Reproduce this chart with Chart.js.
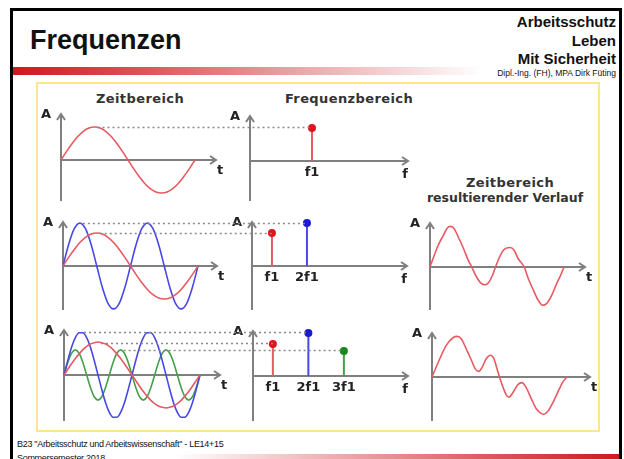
<!DOCTYPE html>
<html>
<head>
<meta charset="utf-8">
<title>Frequenzen</title>
<script src="https://cdn.jsdelivr.net/npm/chart.js@4.4.1/dist/chart.umd.min.js"></script>
<style>
  html, body { margin: 0; padding: 0; }
  body { width: 624px; height: 459px; overflow: hidden; position: relative; background: #fff;
         font-family: "Liberation Sans", Arial, sans-serif; color: #111; }
  .abs { position: absolute; white-space: nowrap; line-height: 1; }
  #frame { left: 10px; top: 8px; width: 606px; height: 480px; border: 3px solid #000; }
  #topbar { left: 13px; top: 67px; width: 470px; height: 8px;
            background: linear-gradient(90deg, #d0181c 0%, #dc5a5e 30%, #eaa4a6 60%, #fff 100%); }
  #botbar { left: 175px; top: 454px; width: 444px; height: 8px;
            background: linear-gradient(90deg, #fff 0%, #eaa4a6 40%, #dc5a5e 70%, #d0181c 100%); }
  #box { left: 36px; top: 82px; width: 560px; height: 346px; border: 2px solid #fde68f; }
  .head { right: 8px; font-weight: bold; font-size: 15px; }
  .cap { font-family: "DejaVu Sans"; font-weight: bold; font-size: 13px; color: #333;
         letter-spacing: .4px; transform: translateX(-50%); }
  .foot { left: 17px; font-size: 9px; letter-spacing: -0.3px; color: #111; }
  canvas { position: absolute; }
</style>
</head>
<body>
<div id="frame" class="abs"></div>
<div id="topbar" class="abs"></div>
<div id="botbar" class="abs"></div>
<div id="box" class="abs"></div>

<div class="abs" style="left:30px;top:27px;font-size:27px;font-weight:bold;">Frequenzen</div>
<div class="abs head" style="top:14px;">Arbeitsschutz</div>
<div class="abs head" style="top:33px;">Leben</div>
<div class="abs head" style="top:51px;">Mit Sicherheit</div>
<div class="abs" style="right:8px;top:69px;font-size:8.5px;">Dipl.-Ing. (FH), MPA Dirk Füting</div>

<div class="abs cap" style="left:140px;top:92px;">Zeitbereich</div>
<div class="abs cap" style="left:349px;top:92px;">Frequenzbereich</div>
<div class="abs cap" style="left:510px;top:176px;">Zeitbereich</div>
<div class="abs cap" style="left:505px;top:192px;font-size:12.5px;letter-spacing:0;">resultierender Verlauf</div>

<div class="abs foot" style="top:440px;">B23 "Arbeitsschutz und Arbeitswissenschaft" - LE14+15</div>
<div class="abs foot" style="top:454px;">Sommersemester 2018</div>

<canvas id="t1"></canvas><canvas id="f1"></canvas>
<canvas id="t2"></canvas><canvas id="f2"></canvas><canvas id="r2"></canvas>
<canvas id="t3"></canvas><canvas id="f3"></canvas><canvas id="r3"></canvas>
<canvas id="dots" width="624" height="459" style="left:0;top:0;"></canvas>

<script>
// phase of the fundamental, degrees
const PHASE_15 = [0,15,30,45,60,75,90,105,120,135,150,165,180,195,210,225,240,255,270,285,300,315,330,345,360];
const PHASE_10 = [0,10,20,30,40,50,60,70,80,90,100,110,120,130,140,150,160,170,180,190,200,210,220,230,240,250,260,270,280,290,300,310,320,330,340,350,360];

// row 1: one sine
const ROW1_RED = [0,0.26,0.5,0.71,0.87,0.97,1,0.97,0.87,0.71,0.5,0.26,0,-0.26,-0.5,-0.71,-0.87,-0.97,-1,-0.97,-0.87,-0.71,-0.5,-0.26,0];

// row 2: f1 + 2f1
const ROW2_RED = [0,0.26,0.5,0.71,0.87,0.97,1,0.97,0.87,0.71,0.5,0.26,0,-0.26,-0.5,-0.71,-0.87,-0.97,-1,-0.97,-0.87,-0.71,-0.5,-0.26,0];
const ROW2_BLUE = [0,0.65,1.13,1.3,1.13,0.65,0,-0.65,-1.13,-1.3,-1.13,-0.65,0,0.65,1.13,1.3,1.13,0.65,0,-0.65,-1.13,-1.3,-1.13,-0.65,0];

// row 3: f1 + 2f1 + 3f1
const ROW3_RED = [0,0.17,0.34,0.5,0.64,0.77,0.87,0.94,0.98,1,0.98,0.94,0.87,0.77,0.64,0.5,0.34,0.17,0,-0.17,-0.34,-0.5,-0.64,-0.77,-0.87,-0.94,-0.98,-1,-0.98,-0.94,-0.87,-0.77,-0.64,-0.5,-0.34,-0.17,0];
const ROW3_BLUE = [0,0.44,0.84,1.13,1.28,1.28,1.13,0.84,0.44,0,-0.44,-0.84,-1.13,-1.28,-1.28,-1.13,-0.84,-0.44,0,0.44,0.84,1.13,1.28,1.28,1.13,0.84,0.44,0,-0.44,-0.84,-1.13,-1.28,-1.28,-1.13,-0.84,-0.44,0];
const ROW3_GREEN = [0,0.38,0.66,0.76,0.66,0.38,0,-0.38,-0.66,-0.76,-0.66,-0.38,0,0.38,0.66,0.76,0.66,0.38,0,-0.38,-0.66,-0.76,-0.66,-0.38,0,0.38,0.66,0.76,0.66,0.38,0,-0.38,-0.66,-0.76,-0.66,-0.38,0];

// resulting curves
const SUM2_PHASE = [0,13,22,36,47,56,65,76,90,103,112,124,136,148,157,168,176,186,197,215,226,237,253,264,278,291,303,313,327,340,351,360];
const SUM2_A = [0,0.40,0.66,0.96,1.19,1.23,1.16,0.91,0.56,0.20,0,-0.28,-0.48,-0.54,-0.48,-0.25,0,0.28,0.51,0.59,0.51,0.25,0,-0.35,-0.71,-1.01,-1.16,-1.11,-0.86,-0.51,-0.25,0];
const SUM3_PHASE = [0,21,38,56,67,78,91,105,116,125,134,145,156,165,172,180,189,198,205,216,229,240,250,265,278,292,298,309,323,336,349,360];
const SUM3_A = [0,0.56,0.96,1.19,1.23,1.16,0.86,0.51,0.23,0.17,0.30,0.56,0.66,0.56,0.30,0,-0.30,-0.54,-0.61,-0.47,-0.23,-0.17,-0.30,-0.66,-0.96,-1.11,-1.13,-1.04,-0.76,-0.45,-0.15,0];

// spectra
const HARMONICS = [1, 2, 3];
const HARMONIC_LABELS = ['f1', '2f1', '3f1'];
const SPEC_ROW1 = [1];
const SPEC_ROW2 = [1, 1.3];
const SPEC_ROW3 = [0.97, 1.3, 0.76];
// phase where the dotted guide leaves each time curve
const PEAK_ROW1 = [90];
const PEAK_ROW2 = [90, 45];
const PEAK_ROW3 = [90, 45, 150];

const CURVE = ['#e85a62', '#4848e4', '#44a04a'];
const DOT = ['#e0141c', '#1a1ad0', '#16881c'];

// panel geometry: origin, axis ends, pixels per unit
const G = {
  t1: {x0: 61, y0: 160, right: 216, top: 114, bottom: 201, sx: 134/360, sy: 33, xAt0: 0, unit: 't'},
  f1: {x0: 250, y0: 161, right: 408, top: 116, bottom: 201, sx: 62, sy: 33, xAt0: 0, unit: 'f'},
  t2: {x0: 63, y0: 266, right: 217, top: 222, bottom: 310, sx: 135/360, sy: 33, xAt0: 0, unit: 't'},
  f2: {x0: 252, y0: 266, right: 407, top: 222, bottom: 310, sx: 35, sy: 33, xAt0: 0.43, unit: 'f'},
  r2: {x0: 430, y0: 267, right: 585, top: 223, bottom: 310, sx: 134/360, sy: 33, xAt0: 0, unit: 't'},
  t3: {x0: 64, y0: 375, right: 220, top: 330, bottom: 421, sx: 136/360, sy: 33, xAt0: 0, unit: 't'},
  f3: {x0: 253, y0: 376, right: 408, top: 331, bottom: 421, sx: 35.5, sy: 33, xAt0: 0.44, unit: 'f'},
  r3: {x0: 432, y0: 377, right: 590, top: 333, bottom: 421, sx: 135/360, sy: 33, xAt0: 0, unit: 't'}
};
const PAD = {left: 24, top: 10, right: 12, bottom: 20};

const axesPlugin = {
  id: 'axes',
  beforeDatasetsDraw(chart, args, opts) {
    const {ctx, chartArea: a, scales: {x, y}} = chart;
    const x0 = a.left, y0 = y.getPixelForValue(0);
    ctx.save();
    ctx.strokeStyle = '#7f7f7f';
    ctx.lineWidth = 2;
    ctx.beginPath();
    ctx.moveTo(x0, a.bottom); ctx.lineTo(x0, a.top);
    ctx.moveTo(x0, y0); ctx.lineTo(a.right, y0);
    ctx.moveTo(x0 - 4, a.top + 6); ctx.lineTo(x0, a.top); ctx.lineTo(x0 + 4, a.top + 6);
    ctx.moveTo(a.right - 6, y0 - 4); ctx.lineTo(a.right, y0); ctx.lineTo(a.right - 6, y0 + 4);
    ctx.stroke();
    ctx.fillStyle = '#222';
    ctx.font = 'bold 13px "DejaVu Sans"';
    ctx.textAlign = 'center';
    ctx.textBaseline = 'middle';
    ctx.fillText('A', x0 - 15, a.top + 1);
    if (opts.unit === 't') ctx.fillText('t', a.right + 4, y0 + 11);
    else ctx.fillText('f', a.right - 3, y0 + 14);
    (opts.ticks || []).forEach((h, i) => {
      ctx.fillText(HARMONIC_LABELS[i], x.getPixelForValue(h), y0 + 12);
    });
    ctx.restore();
  }
};

const zip = (xs, ys) => xs.map((v, i) => ({x: v, y: ys[i]}));

function curve(xs, ys, color) {
  return {data: zip(xs, ys), borderColor: color, borderWidth: 1.6, pointRadius: 0,
          cubicInterpolationMode: 'monotone', fill: false, clip: false};
}

function stem(h, amp, i) {
  return {data: [{x: h, y: 0}, {x: h, y: amp}], borderColor: CURVE[i], borderWidth: 2,
          pointRadius: [0, 4], pointBackgroundColor: DOT[i], pointBorderWidth: 0, clip: false};
}

function panel(id, datasets, ticks) {
  const g = G[id];
  const cv = document.getElementById(id);
  cv.width = g.right - g.x0 + PAD.left + PAD.right;
  cv.height = g.bottom - g.top + PAD.top + PAD.bottom;
  cv.style.left = (g.x0 - PAD.left) + 'px';
  cv.style.top = (g.top - PAD.top) + 'px';
  const chart = new Chart(cv, {
    type: 'line',
    data: {datasets},
    options: {
      responsive: false,
      animation: false,
      events: [],
      layout: {padding: PAD},
      scales: {
        x: {type: 'linear', display: false, min: g.xAt0, max: g.xAt0 + (g.right - g.x0) / g.sx},
        y: {type: 'linear', display: false, min: -(g.bottom - g.y0) / g.sy, max: (g.y0 - g.top) / g.sy}
      },
      plugins: {legend: {display: false}, tooltip: {enabled: false}, axes: {unit: g.unit, ticks: ticks}}
    },
    plugins: [axesPlugin]
  });
  chart.offX = g.x0 - PAD.left;
  chart.offY = g.top - PAD.top;
  return chart;
}

const spectrum = (amps) => amps.map((a, i) => stem(HARMONICS[i], a, i));

const t1 = panel('t1', [curve(PHASE_15, ROW1_RED, CURVE[0])]);
const f1 = panel('f1', spectrum(SPEC_ROW1), HARMONICS.slice(0, 1));

const t2 = panel('t2', [curve(PHASE_15, ROW2_RED, CURVE[0]), curve(PHASE_15, ROW2_BLUE, CURVE[1])]);
const f2 = panel('f2', spectrum(SPEC_ROW2), HARMONICS.slice(0, 2));
panel('r2', [curve(SUM2_PHASE, SUM2_A, CURVE[0])]);

const t3 = panel('t3', [curve(PHASE_10, ROW3_RED, CURVE[0]), curve(PHASE_10, ROW3_BLUE, CURVE[1]),
                        curve(PHASE_10, ROW3_GREEN, CURVE[2])]);
const f3 = panel('f3', spectrum(SPEC_ROW3), HARMONICS.slice(0, 3));
panel('r3', [curve(SUM3_PHASE, SUM3_A, CURVE[0])]);

// dotted guides from each time peak to its spectral line
const dctx = document.getElementById('dots').getContext('2d');
dctx.strokeStyle = '#8a8a8a';
dctx.lineWidth = 1.3;
dctx.setLineDash([2, 3]);
[[t1, f1, SPEC_ROW1, PEAK_ROW1], [t2, f2, SPEC_ROW2, PEAK_ROW2], [t3, f3, SPEC_ROW3, PEAK_ROW3]].forEach(([tc, fc, amps, peaks]) => {
  amps.forEach((a, i) => {
    const xa = tc.offX + tc.scales.x.getPixelForValue(peaks[i]);
    const ya = Math.round(tc.offY + tc.scales.y.getPixelForValue(a)) + 0.5;
    const xb = fc.offX + fc.scales.x.getPixelForValue(HARMONICS[i]);
    dctx.beginPath();
    dctx.moveTo(xa + 3, ya);
    dctx.lineTo(xb, ya);
    dctx.stroke();
  });
});
</script>
</body>
</html>
